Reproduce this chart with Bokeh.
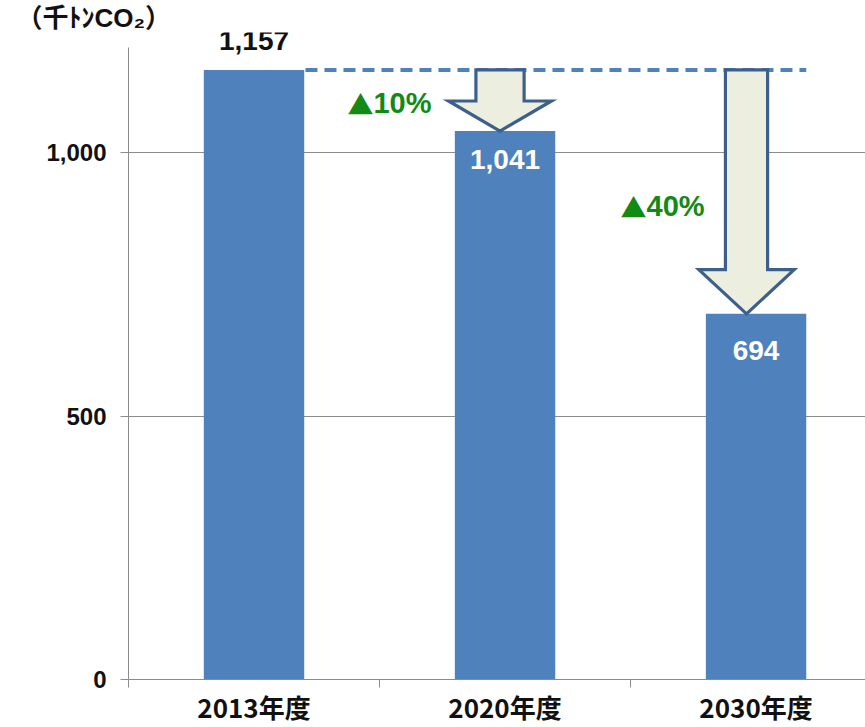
from bokeh.plotting import figure
from bokeh.models import (ColumnDataSource, FixedTicker, NumeralTickFormatter, Label, Range1d)
from bokeh.embed import file_html
from bokeh.resources import INLINE

# Emissions (thousand t-CO2) by fiscal year
years = ["2013年度", "2020年度", "2030年度"]
emissions = [1157, 1041, 694]
y_ticks = [0, 500, 1000]
unit = "（千ﾄﾝCO₂）"

base = emissions[0]
reductions = [round((1 - v / base) * 100) for v in emissions]

xs = [i + 0.5 for i in range(len(years))]

p = figure(width=865, height=727, output_backend="svg", toolbar_location=None,
           x_range=Range1d(0, 2.936), y_range=Range1d(0, 1228),
           min_border_left=128, min_border_right=0, min_border_top=0, min_border_bottom=40)
p.outline_line_color = None
p.background_fill_color = "white"
p.border_fill_color = "white"

# unit caption
p.title.text = unit
p.title.align = "left"
p.title.offset = -112
p.title.text_font = "Liberation Sans, Noto Sans CJK JP"
p.title.text_font_style = "bold"
p.title.text_font_size = "26px"
p.title.text_color = "#111111"
p.title.standoff = 0

AX = "#8c8c8c"
BLUE = "#4f81bd"
GREEN = "#138a13"

# bars
src = ColumnDataSource(dict(x=xs, top=emissions))
p.vbar(x="x", top="top", width=0.4, source=src, fill_color=BLUE, line_color=None)

# baseline reference at the 2013 level
p.line([0.705, 2.70], [base, base], line_color=BLUE, line_width=4, line_dash="12 7")

# reduction arrows from the baseline down to each target
arrow_specs = [(1, 1.48, 0.096, 0.205, 57), (2, 2.462, 0.084, 0.19, 84)]
for idx, cx, sw, hw, hh in arrow_specs:
    tip = emissions[idx]
    neck = tip + hh
    ax = [cx - sw, cx + sw, cx + sw, cx + hw, cx, cx - hw, cx - sw]
    ay = [base, base, neck, neck, tip, neck, neck]
    p.patch(ax, ay, fill_color="#eceedf", line_color="#3d5f8c", line_width=3.2,
            line_join="miter")

# value labels
lbl_font = "Liberation Sans"
p.add_layout(Label(x=xs[0], y=emissions[0], text=f"{emissions[0]:,}", y_offset=29,
                   text_align="center", text_baseline="middle", text_font=lbl_font,
                   text_font_style="bold", text_font_size="28px", text_color="#111111"))
for i, off in [(1, -28), (2, -37)]:
    p.add_layout(Label(x=xs[i], y=emissions[i], text=f"{emissions[i]:,}", y_offset=off,
                       text_align="center", text_baseline="middle", text_font=lbl_font,
                       text_font_style="bold", text_font_size="28px", text_color="white"))

# reduction percentage labels (triangle + figure)
for (i, lx, ly) in [(1, 0.872, 1094), (2, 1.960, 898)]:
    p.add_layout(Label(x=lx, y=ly, text="▲", text_align="left", text_baseline="middle",
                       text_font="Noto Sans CJK JP", text_font_size="26px",
                       text_color=GREEN))
    p.add_layout(Label(x=lx, y=ly, x_offset=26, text=f"{reductions[i]}%", text_align="left",
                       text_baseline="middle", text_font=lbl_font, text_font_style="bold",
                       text_font_size="29px", text_color=GREEN))

# axes
p.xgrid.grid_line_color = None
p.ygrid.grid_line_color = AX
p.ygrid.ticker = FixedTicker(ticks=[500, 1000])

p.yaxis.bounds = (0, 1200)
p.yaxis.ticker = FixedTicker(ticks=y_ticks)
p.yaxis.formatter = NumeralTickFormatter(format="0,0")
p.yaxis.axis_line_color = AX
p.yaxis.major_tick_line_color = AX
p.yaxis.major_tick_out = 8
p.yaxis.major_tick_in = 0
p.yaxis.minor_tick_line_color = None
p.yaxis.major_label_standoff = 14
p.yaxis.major_label_text_font = "Liberation Sans"
p.yaxis.major_label_text_font_style = "bold"
p.yaxis.major_label_text_font_size = "24px"
p.yaxis.major_label_text_color = "#111111"

p.xaxis.ticker = FixedTicker(ticks=xs, minor_ticks=[0, 1, 2, 3])
p.xaxis.major_label_overrides = {x: y for x, y in zip(xs, years)}
p.xaxis.axis_line_color = AX
p.xaxis.major_tick_line_color = None
p.xaxis.major_tick_out = 0
p.xaxis.minor_tick_line_color = AX
p.xaxis.minor_tick_out = 8
p.xaxis.minor_tick_in = 0
p.xaxis.major_label_standoff = 0
p.xaxis.major_label_text_font = "Liberation Sans Narrow, Noto Sans CJK JP"
p.xaxis.major_label_text_font_style = "bold"
p.xaxis.major_label_text_font_size = "26px"
p.xaxis.major_label_text_color = "#111111"

open("out.html", "w").write(file_html(p, INLINE))
